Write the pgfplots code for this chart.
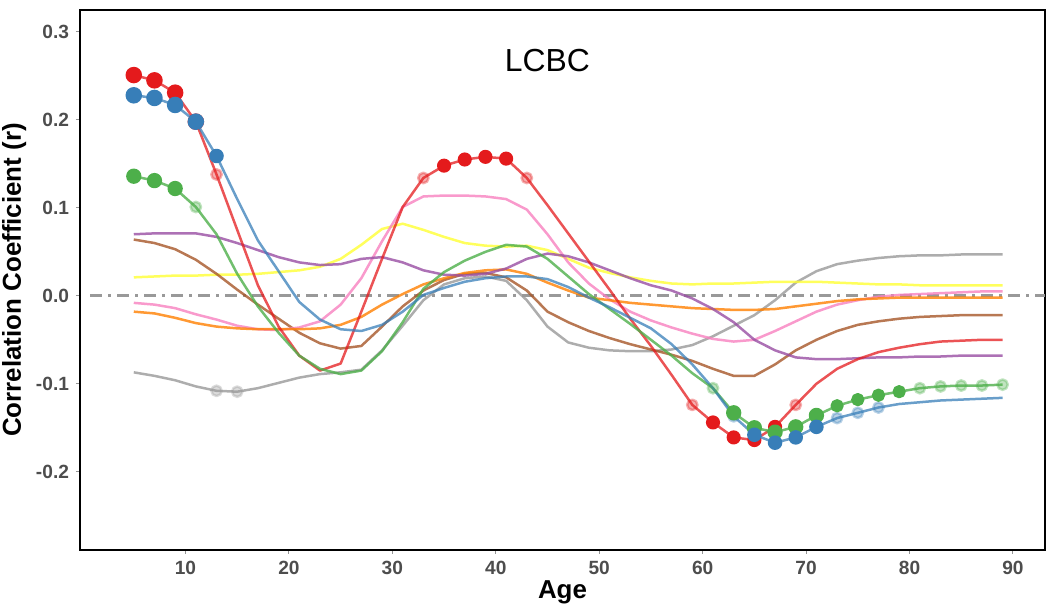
\documentclass[border=0pt]{standalone}
\usepackage{pgfplots}
\usepackage{pgfplotstable}
\usepackage{fontspec}
\setmainfont{Liberation Sans}
\pgfplotsset{compat=1.18}
\usetikzlibrary{calc}

\definecolor{sred}{HTML}{E41A1C}
\definecolor{sblue}{HTML}{377EB8}
\definecolor{sgreen}{HTML}{4DAF4A}
\definecolor{spurple}{HTML}{984EA3}
\definecolor{sorange}{HTML}{FF7F00}
\definecolor{syellow}{HTML}{FFFF33}
\definecolor{sbrown}{HTML}{A65628}
\definecolor{spink}{HTML}{F781BF}
\definecolor{sgrey}{HTML}{999999}
\definecolor{tickgray}{HTML}{4D4D4D}

% age, then one column per curve
\pgfplotstableread{
age red blue green purple orange yellow brown pink grey
5 0.251 0.228 0.136 0.070 -0.018 0.021 0.064 -0.008 -0.087
7 0.245 0.225 0.131 0.071 -0.020 0.022 0.060 -0.010 -0.091
9 0.231 0.217 0.122 0.071 -0.025 0.023 0.053 -0.014 -0.096
11 0.198 0.198 0.101 0.071 -0.031 0.023 0.041 -0.021 -0.103
13 0.138 0.159 0.070 0.067 -0.035 0.024 0.025 -0.027 -0.108
15 0.075 0.110 0.025 0.060 -0.037 0.024 0.007 -0.034 -0.109
17 0.012 0.063 -0.012 0.052 -0.038 0.025 -0.010 -0.038 -0.105
19 -0.035 0.028 -0.042 0.044 -0.038 0.027 -0.026 -0.039 -0.099
21 -0.068 -0.007 -0.068 0.038 -0.038 0.029 -0.042 -0.036 -0.093
23 -0.085 -0.027 -0.083 0.035 -0.037 0.033 -0.054 -0.029 -0.089
25 -0.077 -0.038 -0.089 0.036 -0.033 0.042 -0.060 -0.010 -0.087
27 -0.018 -0.040 -0.085 0.042 -0.024 0.058 -0.057 0.020 -0.084
29 0.042 -0.033 -0.063 0.044 -0.010 0.076 -0.035 0.062 -0.062
31 0.101 -0.018 -0.030 0.038 0.002 0.082 -0.012 0.101 -0.034
33 0.134 0.001 0.008 0.029 0.013 0.075 0.006 0.113 -0.005
35 0.148 0.009 0.027 0.024 0.020 0.067 0.018 0.114 0.013
37 0.155 0.016 0.040 0.023 0.026 0.060 0.025 0.114 0.020
39 0.158 0.020 0.050 0.025 0.029 0.057 0.026 0.113 0.022
41 0.156 0.022 0.058 0.031 0.030 0.056 0.021 0.110 0.017
43 0.134 0.022 0.056 0.042 0.025 0.057 0.006 0.098 -0.005
45 0.103 0.019 0.042 0.048 0.015 0.052 -0.018 0.070 -0.035
47 0.071 0.010 0.022 0.045 0.006 0.042 -0.030 0.038 -0.053
49 0.039 -0.002 0.002 0.038 -0.002 0.032 -0.040 0.014 -0.059
51 0.007 -0.013 -0.015 0.029 -0.005 0.026 -0.048 -0.004 -0.062
53 -0.026 -0.025 -0.032 0.020 -0.008 0.021 -0.055 -0.018 -0.063
55 -0.057 -0.037 -0.050 0.012 -0.010 0.017 -0.061 -0.028 -0.063
57 -0.090 -0.055 -0.068 0.006 -0.012 0.014 -0.067 -0.036 -0.061
59 -0.124 -0.078 -0.088 -0.003 -0.014 0.013 -0.074 -0.043 -0.056
61 -0.144 -0.105 -0.105 -0.015 -0.015 0.014 -0.083 -0.049 -0.046
63 -0.161 -0.137 -0.133 -0.030 -0.016 0.014 -0.091 -0.052 -0.034
65 -0.164 -0.158 -0.150 -0.050 -0.016 0.015 -0.091 -0.050 -0.022
67 -0.149 -0.167 -0.155 -0.062 -0.015 0.016 -0.078 -0.040 -0.005
69 -0.124 -0.161 -0.149 -0.070 -0.012 0.016 -0.062 -0.029 0.015
71 -0.100 -0.149 -0.136 -0.072 -0.009 0.016 -0.050 -0.018 0.028
73 -0.083 -0.139 -0.125 -0.072 -0.006 0.015 -0.040 -0.010 0.036
75 -0.072 -0.133 -0.118 -0.071 -0.004 0.014 -0.033 -0.005 0.040
77 -0.064 -0.127 -0.113 -0.070 -0.003 0.013 -0.029 -0.001 0.043
79 -0.059 -0.123 -0.109 -0.070 -0.002 0.013 -0.026 0.001 0.045
81 -0.055 -0.121 -0.105 -0.069 -0.002 0.012 -0.024 0.002 0.046
83 -0.052 -0.119 -0.103 -0.069 -0.002 0.012 -0.023 0.003 0.046
85 -0.051 -0.118 -0.102 -0.068 -0.002 0.012 -0.022 0.004 0.047
87 -0.050 -0.117 -0.102 -0.068 -0.002 0.012 -0.022 0.005 0.047
89 -0.050 -0.116 -0.101 -0.068 -0.002 0.012 -0.022 0.005 0.047
}\curves

\begin{document}
\begin{tikzpicture}
\begin{axis}[
    scale only axis,
    width=482.5bp, height=270bp,
    xmin=-0.2, xmax=93.1,
    ymin=-0.289, ymax=0.325,
    axis line style={black, line width=1bp},
    xtick={10,20,...,90},
    xticklabels={10,20,30,40,50,60,70,80,90},
    ytick={-0.2,-0.1,0,0.1,0.2,0.3},
    yticklabels={-0.2,-0.1,0.0,0.1,0.2,0.3},
    tick pos=left,
    tick align=outside,
    major tick length=2bp,
    tick style={tickgray!60, line width=0.5bp},
    tick label style={font=\bfseries\fontsize{9.6}{11}\selectfont, text=tickgray},
    xlabel={Age},
    ylabel={Correlation Coefficient (r)},
    label style={font=\bfseries\fontsize{13}{15}\selectfont},
    xlabel style={yshift=4bp},
    ylabel style={yshift=-2bp},
    every axis plot/.append style={line width=1.25bp, line join=round},
    clip=false,
]
% zero reference
\addplot[sgrey, line width=1.5bp, dash pattern=on 6bp off 3bp on 1.5bp off 3bp]
    coordinates {(0.8,0) (93.1,0)};

\addplot[sgrey, opacity=0.8] table[x=age, y=grey] {\curves};
\addplot[syellow, opacity=0.8] table[x=age, y=yellow] {\curves};
\addplot[sbrown, opacity=0.8] table[x=age, y=brown] {\curves};
\addplot[spink, opacity=0.8] table[x=age, y=pink] {\curves};
\addplot[sorange, opacity=0.8] table[x=age, y=orange] {\curves};
\addplot[spurple, opacity=0.8] table[x=age, y=purple] {\curves};
\addplot[sred, opacity=0.75] table[x=age, y=red] {\curves};
\addplot[sgreen, opacity=0.8] table[x=age, y=green] {\curves};
\addplot[sblue, opacity=0.75] table[x=age, y=blue] {\curves};

% faded markers (not significant)
\addplot[only marks, mark=*, mark size=2.6bp, sgrey, opacity=0.35]
    coordinates {(13,-0.108) (15,-0.109)};
\addplot[only marks, mark=*, mark size=2.6bp, sred, opacity=0.35]
    coordinates {(13,0.138) (33,0.134) (43,0.134) (59,-0.124) (69,-0.124)};
\addplot[only marks, mark=*, mark size=2.6bp, sgreen, opacity=0.35]
    coordinates {(11,0.101) (61,-0.105) (81,-0.105) (83,-0.103) (85,-0.102) (87,-0.102) (89,-0.101)};
\addplot[only marks, mark=*, mark size=2.6bp, sblue, opacity=0.35]
    coordinates {(63,-0.137) (73,-0.139) (75,-0.133) (77,-0.127)};

% solid markers (significant)
\addplot[only marks, mark=*, mark size=3.5bp, sred]
    coordinates {(5,0.251) (7,0.245) (9,0.231) (11,0.198)};
\addplot[only marks, mark=*, mark size=2.9bp, sred]
    coordinates {(35,0.148) (37,0.155) (39,0.158) (41,0.156)
                 (61,-0.144) (63,-0.161) (65,-0.164) (67,-0.149)};
\addplot[only marks, mark=*, mark size=3.2bp, sgreen]
    coordinates {(5,0.136) (7,0.131) (9,0.122)
                 (63,-0.133) (65,-0.150) (67,-0.155) (69,-0.149) (71,-0.136)};
\addplot[only marks, mark=*, mark size=2.7bp, sgreen]
    coordinates {(73,-0.125) (75,-0.118) (77,-0.113) (79,-0.109)};
\addplot[only marks, mark=*, mark size=3.5bp, sblue]
    coordinates {(5,0.228) (7,0.225) (9,0.217) (11,0.198)};
\addplot[only marks, mark=*, mark size=3.0bp, sblue]
    coordinates {(13,0.159) (65,-0.158) (67,-0.167) (69,-0.161) (71,-0.149)};

\node[font=\fontsize{16}{18}\selectfont, text=black] at (axis cs:45,0.268) {LCBC};
\end{axis}
\pgfresetboundingbox
\path ($(current axis.south west)+(-40bp,-27.5bp)$) rectangle ($(current axis.north east)+(1.5bp,5bp)$);
\end{tikzpicture}
\end{document}
